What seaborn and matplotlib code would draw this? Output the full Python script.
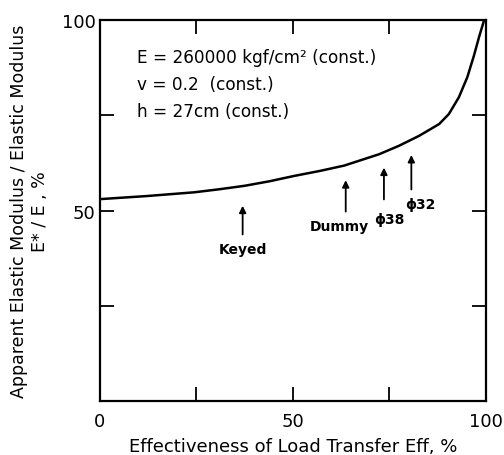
import matplotlib
matplotlib.use("Agg")
import matplotlib.pyplot as plt
import seaborn as sns
import pandas as pd

# Curve
eff = [0, 12, 24.5, 31, 37.5, 44, 50.4, 57, 63.3, 72.4, 77.5, 82.7, 87.9, 90.4, 93.0, 95.2, 96.9, 98.2, 99.5]
ratio = [53.0, 53.8, 54.8, 55.6, 56.5, 57.7, 59.1, 60.4, 61.8, 64.8, 67.0, 69.6, 72.7, 75.3, 79.7, 85.0, 90.6, 95.4, 99.8]

# Arrows: label, x, y tail, y head, label x, label y
arrow_labels = ["Keyed", "Dummy", "ϕ38", "ϕ32"]
arrow_x = [37.0, 63.7, 73.6, 80.7]
arrow_y0 = [43.0, 49.0, 52.2, 54.8]
arrow_y1 = [52.0, 58.7, 62.0, 65.3]
label_x = [37.0, 62.0, 75.0, 83.0]
label_y = [40.0, 46.0, 47.8, 51.7]

notes = ["E = 260000 kgf/cm² (const.)", "v = 0.2  (const.)", "h = 27cm (const.)"]
notes_y = [90.3, 83.2, 76.0]

xticks = [0, 25, 50, 75, 100]
xticklabels = ["0", "", "50", "", "100"]
yticks = [0, 25, 50, 75, 100]
yticklabels = ["", "", "50", "", "100"]

sns.set_style("ticks")
plt.rcParams["font.family"] = ["DejaVu Sans"]
plt.rcParams["text.color"] = "black"
plt.rcParams["axes.labelcolor"] = "black"

fig = plt.figure(figsize=(5.04, 4.56), dpi=100)
ax = fig.add_axes([0.198, 0.118, 0.766, 0.836])

df = pd.DataFrame({"eff": eff, "ratio": ratio})
sns.lineplot(data=df, x="eff", y="ratio", ax=ax, color="black", linewidth=1.8)

ax.set_xlim(0, 100)
ax.set_ylim(0, 100)
ax.set_xticks(xticks)
ax.set_xticklabels(xticklabels, fontsize=13)
ax.set_yticks(yticks)
ax.set_yticklabels(yticklabels, fontsize=13)
ax.tick_params(direction="in", length=10, width=1.3, top=True, right=True, colors="black")
ax.tick_params(axis="x", pad=8)
ax.tick_params(axis="y", pad=3)
for s in ax.spines.values():
    s.set_linewidth(1.6)
    s.set_color("black")

ax.set_xlabel("Effectiveness of Load Transfer Eff, %", fontsize=13, labelpad=5)
ax.set_ylabel("Apparent Elastic Modulus / Elastic Modulus\nE* / E , %", fontsize=12.5, labelpad=9)

for t, yy in zip(notes, notes_y):
    ax.text(9.6, yy, t, fontsize=12.2, va="center", ha="left")

for lab, x, y0, y1, lx, ly in zip(arrow_labels, arrow_x, arrow_y0, arrow_y1, label_x, label_y):
    ax.annotate("", xy=(x, y1), xytext=(x, y0),
                arrowprops=dict(arrowstyle="-|>", color="black", lw=1.3, mutation_scale=10))
    ax.text(lx, ly, lab, fontsize=10, ha="center", va="center", fontweight="bold")

fig.savefig("out.png", dpi=100, facecolor="white")
